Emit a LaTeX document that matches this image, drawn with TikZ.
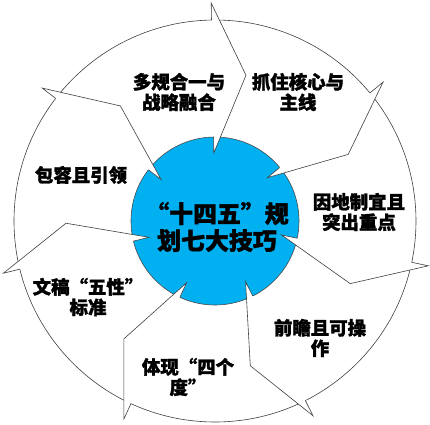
\documentclass[tikz,border=0pt]{standalone}
\usepackage{fontspec}
\newfontfamily\cjk{Noto Sans CJK SC}[BoldFeatures={FakeBold=1.6}]
\usepackage{xcolor}
\usepackage{tikz}
\definecolor{hubblue}{HTML}{00B0F0}

\begin{document}
\begin{tikzpicture}[
 x=1bp,y=1bp,
 rim/.style={draw=black!75,line width=0.6bp,fill=white},
 hub/.style={circle,draw=black!70,line width=0.6bp,fill=hubblue,
             minimum size=168bp,inner sep=0pt},
 wedge/.style={draw=black!75,line width=0.6bp,fill=white,line join=miter},
 tip/.style={align=center,inner sep=1pt,
             font=\cjk\bfseries\fontsize{18.5}{20.5}\selectfont},
 title/.style={align=center,inner sep=1pt,
               font=\cjk\bfseries\fontsize{24}{27}\selectfont}]
\useasboundingbox (-215,-204) rectangle (215,221);
\draw[rim] (0,0) circle (201);
\node[hub] (hub) at (0,0) {};
\draw[wedge] (91:201) -- (91:218) -- (78:149) -- (91:68) -- (91:84);
\draw[wedge] (39.57:201) -- (39.57:218) -- (26.57:149) -- (39.57:68) -- (39.57:84);
\draw[wedge] (-11.86:201) -- (-11.86:218) -- (-24.86:149) -- (-11.86:68) -- (-11.86:84);
\draw[wedge] (-63.29:201) -- (-63.29:218) -- (-76.29:149) -- (-63.29:68) -- (-63.29:84);
\draw[wedge] (-114.71:201) -- (-114.71:218) -- (-127.71:149) -- (-114.71:68) -- (-114.71:84);
\draw[wedge] (-166.14:201) -- (-166.14:218) -- (-179.14:149) -- (-166.14:68) -- (-166.14:84);
\draw[wedge] (142.43:201) -- (142.43:218) -- (129.43:149) -- (142.43:68) -- (142.43:84);
\node[title] (title) at (2,-6) {“十四五”规\\划七大技巧};
\node[tip] (merge) at (-36,129) {多规合一与\\战略融合};
\node[tip] (core) at (83,129) {抓住核心与\\主线};
\node[tip] (local) at (144,9) {因地制宜且\\突出重点};
\node[tip] (ahead) at (105,-117) {前瞻且可操\\作};
\node[tip] (degree) at (-27,-156) {体现“四个\\度”};
\node[tip] (norms) at (-127,-76) {文稿“五性”\\标准};
\node[tip] (lead) at (-134,46) {包容且引领};
\end{tikzpicture}
\end{document}
